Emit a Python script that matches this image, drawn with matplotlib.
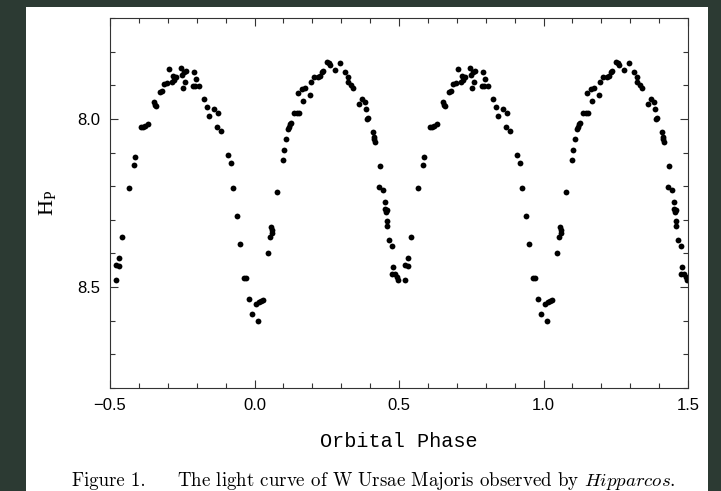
import matplotlib
matplotlib.use("Agg")
import matplotlib.pyplot as plt
from matplotlib.patches import Rectangle
from matplotlib.ticker import MultipleLocator, FuncFormatter

# phase-folded Hipparcos photometry of W UMa, one cycle (-0.5 .. 0.5)
phase = [
    -0.480, -0.479, -0.470, -0.469, -0.460, -0.433, -0.416, -0.413, -0.393, -0.385,
    -0.379, -0.369, -0.349, -0.344, -0.341, -0.327, -0.319, -0.312, -0.304, -0.297,
    -0.285, -0.279, -0.281, -0.273, -0.254, -0.250, -0.243, -0.237, -0.246, -0.240,
    -0.214, -0.205, -0.192, -0.209, -0.201, -0.174, -0.165, -0.158, -0.141, -0.126,
    -0.131, -0.116, -0.092, -0.082, -0.073, -0.061, -0.051, -0.035, -0.029, -0.018,
    -0.008, 0.005, 0.011, 0.015, 0.024, 0.030, 0.048, 0.056, 0.060, 0.062,
    0.055, 0.077, 0.100, 0.102, 0.108, 0.115, 0.118, 0.123, 0.126, 0.138,
    0.146, 0.154, 0.167, 0.149, 0.163, 0.175, 0.192, 0.194, 0.207, 0.219,
    0.227, 0.233, 0.236, 0.252, 0.257, 0.261, 0.279, 0.295, 0.313, 0.325,
    0.322, 0.334, 0.342, 0.362, 0.371, 0.382, 0.385, 0.390, 0.394, 0.409,
    0.415, 0.414, 0.416, 0.434, 0.431, 0.446, 0.451, 0.452, 0.457, 0.454,
    0.457, 0.457, 0.465, 0.475, 0.480, 0.477, 0.486, 0.492, 0.498,
]
hp_mag = [
    8.434, 8.478, 8.436, 8.413, 8.352, 8.206, 8.136, 8.112, 8.023, 8.023,
    8.020, 8.015, 7.951, 7.958, 7.961, 7.921, 7.918, 7.896, 7.894, 7.852,
    7.891, 7.884, 7.872, 7.876, 7.850, 7.868, 7.862, 7.857, 7.909, 7.889,
    7.901, 7.901, 7.903, 7.860, 7.882, 7.942, 7.966, 7.990, 7.971, 7.983,
    8.023, 8.037, 8.108, 8.132, 8.206, 8.290, 8.372, 8.474, 8.474, 8.534,
    8.580, 8.549, 8.600, 8.545, 8.540, 8.537, 8.399, 8.320, 8.330, 8.338,
    8.352, 8.218, 8.122, 8.091, 8.059, 8.030, 8.023, 8.015, 8.012, 7.982,
    7.982, 7.982, 7.948, 7.924, 7.911, 7.909, 7.929, 7.891, 7.876, 7.874,
    7.871, 7.862, 7.859, 7.830, 7.834, 7.839, 7.855, 7.833, 7.862, 7.874,
    7.891, 7.898, 7.908, 7.955, 7.941, 7.951, 7.970, 8.000, 7.997, 8.038,
    8.055, 8.059, 8.069, 8.139, 8.203, 8.211, 8.248, 8.267, 8.270, 8.277,
    8.304, 8.317, 8.361, 8.379, 8.439, 8.460, 8.460, 8.470, 8.478,
]

# plotted twice, shifted by one orbital cycle
cycle_shifts = [0.0, 1.0]

plt.rcParams["mathtext.fontset"] = "cm"

W, H = 721, 491
fig = plt.figure(figsize=(W / 100, H / 100), dpi=100)
fig.patch.set_facecolor("#2c3a33")
fig.patches.append(Rectangle((26 / W, 0), (708 - 26) / W, (H - 7) / H,
                             transform=fig.transFigure, facecolor="white",
                             edgecolor="none", zorder=-5))

ax = fig.add_axes([110 / W, (H - 388) / H, (688 - 110) / W, (388 - 18) / H])
for shift in cycle_shifts:
    ax.plot([p + shift for p in phase], hp_mag, "o", color="black",
            markersize=4.2, markeredgewidth=0, clip_on=True)


def fmt(v, pos):
    return f"{v:.1f}".replace("-", "\u2212")


ax.set_xlim(-0.5, 1.5)
ax.set_ylim(8.8, 7.7)
ax.xaxis.set_major_locator(MultipleLocator(0.5))
ax.xaxis.set_minor_locator(MultipleLocator(0.1))
ax.yaxis.set_major_locator(MultipleLocator(0.5))
ax.yaxis.set_minor_locator(MultipleLocator(0.1))
ax.xaxis.set_major_formatter(FuncFormatter(fmt))
ax.yaxis.set_major_formatter(FuncFormatter(fmt))
ax.tick_params(which="both", direction="in", top=True, right=True,
               color="#333333", width=0.8)
ax.tick_params(which="major", length=6, pad=7, labelsize=12)
ax.tick_params(which="minor", length=3.5)
for lab in ax.get_xticklabels() + ax.get_yticklabels():
    lab.set_family("Liberation Sans")
for sp in ax.spines.values():
    sp.set_color("#333333")
    sp.set_linewidth(0.8)

ax.set_xlabel("Orbital Phase", family="Liberation Mono", fontsize=14.5,
              labelpad=14)
ax.set_ylabel(r"$\mathregular{H_P}$", family="Liberation Serif", fontsize=16,
              labelpad=14)

fig.text(72 / W, 1 - 481 / H, "Figure 1.", family="cmr10", fontsize=13.5,
         va="center", ha="left")
fig.text(177 / W, 1 - 481 / H,
         r"The light curve of W Ursae Majoris observed by $\mathit{Hipparcos}$.",
         family="cmr10", fontsize=13.6, va="center", ha="left")

fig.savefig("out.png", dpi=100, facecolor=fig.get_facecolor())
